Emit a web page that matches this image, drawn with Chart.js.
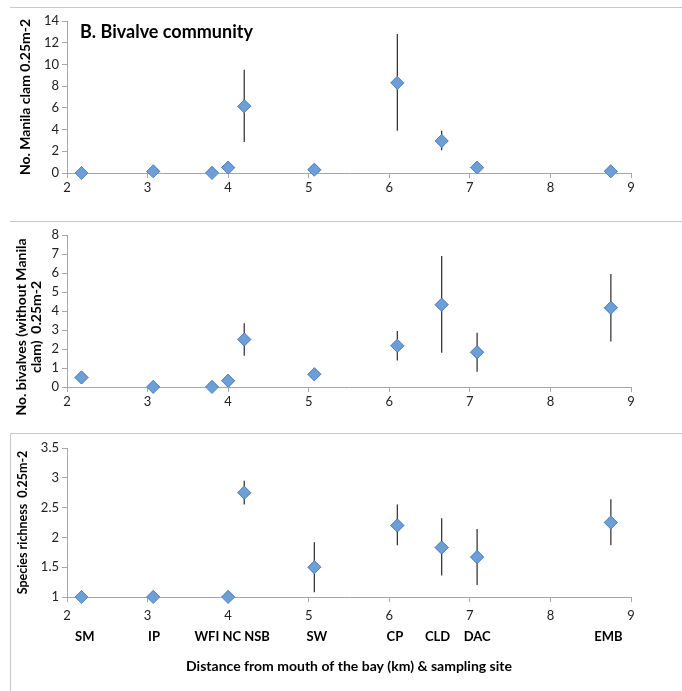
<!DOCTYPE html>
<html>
<head>
<meta charset="utf-8">
<script src="https://cdn.jsdelivr.net/npm/chart.js@4"></script>
<style>
body { margin: 0; background: #fff; }
#wrap { position: relative; width: 682px; height: 691px; overflow: hidden; }
.panel { position: absolute; left: 0; width: 682px; }
#p1 { top: 8px; height: 205px; }
#p2 { top: 222px; height: 210px; }
#p3 { top: 434px; height: 257px; }
.line { position: absolute; background: #c8c8c8; }
</style>
</head>
<body>
<div id="wrap">
  <div class="line" style="left:10px; top:7px; width:672px; height:1px;"></div>
  <div class="line" style="left:10px; top:221px; width:672px; height:1px;"></div>
  <div class="panel" id="p1"><canvas id="c1"></canvas></div>
  <div class="panel" id="p2"><canvas id="c2"></canvas></div>
  <div class="panel" id="p3"><canvas id="c3"></canvas></div>
  <div class="line" style="left:10px; top:433px; width:672px; height:1px;"></div>
  <div class="line" style="left:10px; top:433px; width:1px; height:258px;"></div>
</div>
<script>
// distance from mouth of the bay (km)
const distances = [2.18, 3.07, 3.8, 4.0, 4.2, 5.07, 6.1, 6.65, 7.09, 8.75];

// Manila clam
const clamMean = [0, 0.15, 0, 0.5, 6.15, 0.3, 8.3, 2.95, 0.5, 0.15];
const clamLow  = [0, 0.1, 0, 0.45, 2.85, 0.25, 3.9, 2.1, 0.45, 0.1];
const clamHigh = [0, 0.2, 0, 0.55, 9.5, 0.35, 12.8, 3.9, 0.55, 0.2];

// other bivalves
const bivMean = [0.5, 0, 0, 0.33, 2.5, 0.67, 2.17, 4.33, 1.83, 4.17];
const bivLow  = [0.2, 0, 0, 0.05, 1.65, 0.33, 1.4, 1.8, 0.8, 2.4];
const bivHigh = [0.8, 0, 0, 0.65, 3.35, 1.0, 2.95, 6.9, 2.85, 5.95];

// species richness (no value at 3.8)
const richDist = [2.18, 3.07, 4.0, 4.2, 5.07, 6.1, 6.65, 7.09, 8.75];
const richMean = [1, 1, 1, 2.75, 1.5, 2.2, 1.83, 1.67, 2.25];
const richLow  = [1, 1, 1, 2.55, 1.08, 1.87, 1.36, 1.2, 1.87];
const richHigh = [1, 1, 1, 2.95, 1.92, 2.55, 2.32, 2.14, 2.64];

// sampling sites along the bottom axis
const siteX = [2.22, 3.08, 4.05, 5.1, 6.07, 6.6, 7.09, 8.72];
const siteLabels = ['SM', 'IP', 'WFI NC NSB', 'SW', 'CP', 'CLD', 'DAC', 'EMB'];

const FONT = 'Lato, "Open Sans", sans-serif';
const AXIS = '#a6a6a6';

const errorBars = {
  id: 'errorBars',
  afterDatasetsDraw(chart, args, opts) {
    const ctx = chart.ctx, xs = chart.scales.x, ys = chart.scales.y;
    ctx.save();
    ctx.strokeStyle = '#3a3a3a';
    ctx.lineWidth = 1.3;
    opts.x.forEach((v, i) => {
      if (opts.high[i] - opts.low[i] < 0.001) return;
      const px = xs.getPixelForValue(v);
      ctx.beginPath();
      ctx.moveTo(px, ys.getPixelForValue(opts.low[i]));
      ctx.lineTo(px, ys.getPixelForValue(opts.high[i]));
      ctx.stroke();
    });
    ctx.restore();
    // markers sit on top of the bars
    chart.getDatasetMeta(0).controller.draw();
  }
};

// panel title and rotated y axis title
const labels = {
  id: 'labels',
  afterDraw(chart, args, opts) {
    const ctx = chart.ctx, area = chart.chartArea;
    ctx.save();
    ctx.fillStyle = '#000';
    ctx.textBaseline = 'middle';
    if (opts.title) {
      ctx.font = 'bold 18px ' + FONT;
      ctx.fillText(opts.title, area.left + 13, area.top + 11);
    }
    ctx.font = 'bold ' + opts.ySize + 'px ' + FONT;
    ctx.textAlign = 'center';
    const cy = (area.top + area.bottom) / 2 + opts.yShift;
    opts.yTitle.forEach((t, i) => {
      ctx.save();
      ctx.translate(opts.yX + i * opts.ySize * 1.08, cy);
      ctx.rotate(-Math.PI / 2);
      ctx.fillText(t, 0, 0);
      ctx.restore();
    });
    ctx.restore();
  }
};

function makeChart(id, xv, mean, low, high, yOpts, extra) {
  const pts = xv.map((v, i) => ({ x: v, y: mean[i] }));
  const scales = {
    x: {
      type: 'linear', min: 2, max: 9,
      afterFit: s => { s.height = extra.xHeight; },
      ticks: { stepSize: 1, color: '#222', font: { family: FONT, size: 13 }, padding: extra.xPad },
      grid: { drawOnChartArea: false, color: AXIS, tickLength: 5 },
      border: { color: AXIS }
    },
    y: {
      min: yOpts.min, max: yOpts.max,
      afterFit: s => { s.width = 67; },
      ticks: { stepSize: yOpts.step, color: '#222', font: { family: FONT, size: 13 }, padding: 3,
               callback: v => String(v) },
      grid: { drawOnChartArea: false, color: AXIS, tickLength: 5 },
      border: { color: AXIS }
    }
  };
  if (extra.sites) {
    scales.x2 = {
      type: 'linear', position: 'bottom', min: 2, max: 9,
      afterFit: s => { s.height = 64; },
      afterBuildTicks: s => { s.ticks = siteX.map(v => ({ value: v })); },
      ticks: {
        autoSkip: false, maxRotation: 0, color: '#000', padding: 2,
        font: { family: FONT, size: 13, weight: 'bold' },
        callback: (v, i) => siteLabels[i]
      },
      grid: { display: false, drawTicks: false },
      border: { display: false },
      title: { display: true, text: 'Distance from mouth of the bay (km) & sampling site', color: '#000',
               font: { family: FONT, size: 14, weight: 'bold' }, padding: { top: 0, bottom: 16 } }
    };
  }
  return new Chart(document.getElementById(id), {
    type: 'scatter',
    data: {
      datasets: [{
        data: pts,
        pointStyle: 'rectRot',
        pointRadius: 6.5,
        pointHoverRadius: 6.5,
        backgroundColor: '#6d9fd6',
        borderColor: '#5588c4',
        borderWidth: 1
      }]
    },
    options: {
      animation: false,
      responsive: true,
      maintainAspectRatio: false,
      layout: { padding: { left: 0, right: 51, top: extra.top, bottom: 0 } },
      scales: scales,
      plugins: {
        legend: { display: false },
        tooltip: { enabled: false },
        errorBars: { x: xv, low: low, high: high },
        labels: { title: extra.title, yTitle: yOpts.title, yX: yOpts.tx, ySize: yOpts.size, yShift: yOpts.shift }
      }
    },
    plugins: [errorBars, labels]
  });
}

makeChart('c1', distances, clamMean, clamLow, clamHigh,
  { min: 0, max: 14, step: 2, title: ['No. Manila clam 0.25m-2'], tx: 25, size: 14, shift: 0 },
  { xHeight: 40, xPad: 2, top: 13, title: 'B. Bivalve community' });

makeChart('c2', distances, bivMean, bivLow, bivHigh,
  { min: 0, max: 8, step: 1, title: ['No. bivalves (without Manila', 'clam)  0.25m-2'], tx: 21, size: 14, shift: 16 },
  { xHeight: 45, xPad: 2, top: 13 });

makeChart('c3', richDist, richMean, richLow, richHigh,
  { min: 1, max: 3.5, step: 0.5, title: ['Species richness  0.25m-2'], tx: 23, size: 12.5, shift: 0 },
  { xHeight: 30, xPad: 6, top: 14, sites: true });
</script>
</body>
</html>
